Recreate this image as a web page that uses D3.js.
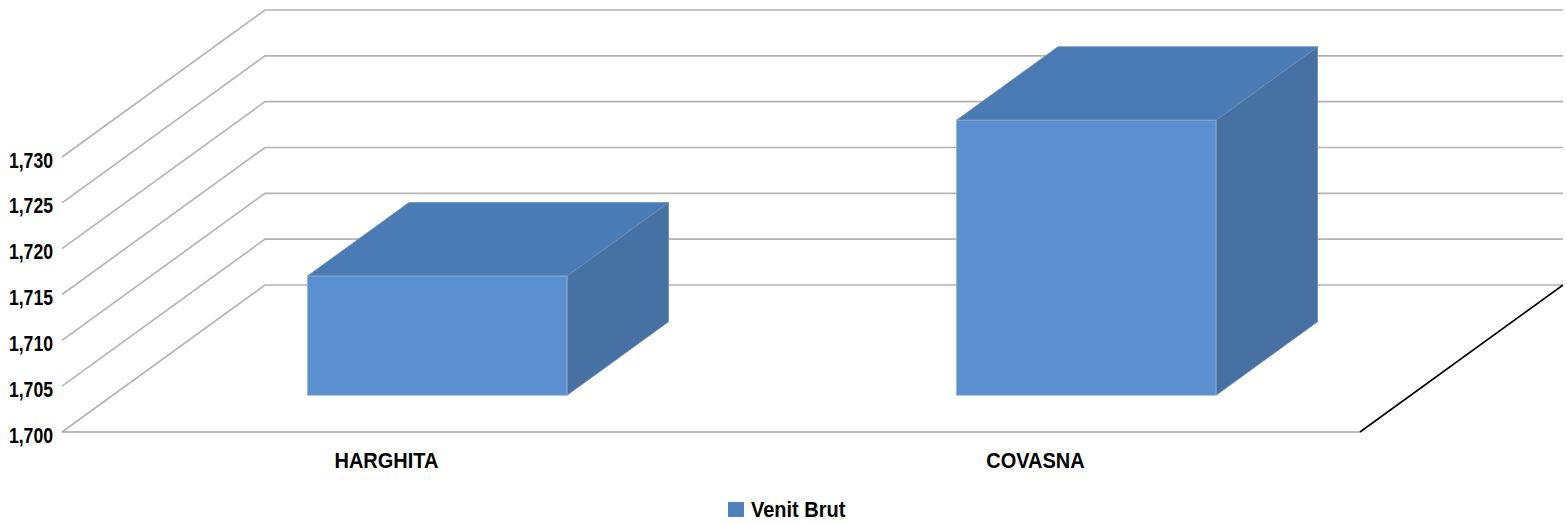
<!DOCTYPE html>
<html>
<head>
<meta charset="utf-8">
<script src="https://cdn.jsdelivr.net/npm/d3@7"></script>
<style>
  body { margin: 0; background: #fff; }
  svg { display: block; }
  text { font-family: "Liberation Sans", Arial, sans-serif; font-weight: bold; fill: #000; }
</style>
</head>
<body>
<svg id="chart" width="1567" height="525"></svg>
<script>
// data
var categories = ["HARGHITA", "COVASNA"];
var values = [1713, 1730];
var yTicks = [1700, 1705, 1710, 1715, 1720, 1725, 1730];
var seriesName = "Venit Brut";

var depthX = 203, depthY = -147;   // full depth of the 3d box
var barDepth0 = 0.25, barDepth1 = 0.75;
var narrowNum = 0.82;               // arial narrow look for numbers
var narrowTxt = 0.93;               // words look a bit wider

var svg = d3.select("#chart");

var x = d3.scaleBand().domain(categories).range([62, 1360]).padding(0);
var y = d3.scaleLinear().domain([1700, 1730]).range([432, 157]);
var fmt = d3.format(",");

function pt(px, py, d) {
    return [px + d * depthX, py + d * depthY];
}

// gridlines: left wall diagonal + back wall horizontal
var grid = svg.append("g").attr("class", "grid");
yTicks.forEach(function (t) {
    var p0 = [x.range()[0], y(t)];
    var p1 = pt(p0[0], p0[1], 1);
    var p2 = [x.range()[1] + depthX, p1[1]];
    grid.append("path")
        .attr("d", d3.line()([p0, p1, p2]))
        .attr("fill", "none")
        .attr("stroke", "#b3b3b3")
        .attr("stroke-width", 1.6);
});

// floor
svg.append("line")
    .attr("x1", x.range()[0]).attr("y1", y(1700))
    .attr("x2", x.range()[1]).attr("y2", y(1700))
    .attr("stroke", "#a6a6a6").attr("stroke-width", 1.6);
var fr = pt(x.range()[1], y(1700), 1);
svg.append("line")
    .attr("x1", x.range()[1]).attr("y1", y(1700))
    .attr("x2", fr[0]).attr("y2", fr[1])
    .attr("stroke", "#000").attr("stroke-width", 1.6);

// y tick labels
svg.append("g").selectAll("text")
    .data(yTicks)
    .enter().append("text")
    .attr("transform", function (d) { return "translate(53," + (y(d) + 10.5) + ") scale(" + narrowNum + ",1)"; })
    .attr("text-anchor", "end")
    .attr("font-size", 21.5)
    .text(function (d) { return fmt(d); });

// bars
var bw = x.bandwidth() / 2.5;
var bars = svg.append("g").selectAll("g")
    .data(categories.map(function (c, i) { return { cat: c, val: values[i] }; }))
    .enter().append("g");

bars.each(function (d) {
    var g = d3.select(this);
    var cx = x(d.cat) + x.bandwidth() / 2;
    var l = cx - bw / 2, r = cx + bw / 2;
    var fbl = pt(l, y(1700), barDepth0), fbr = pt(r, y(1700), barDepth0);
    var ftl = pt(l, y(d.val), barDepth0), ftr = pt(r, y(d.val), barDepth0);
    var bbr = pt(r, y(1700), barDepth1);
    var btl = pt(l, y(d.val), barDepth1), btr = pt(r, y(d.val), barDepth1);
    var line = d3.line();

    g.append("path").attr("d", line([fbr, ftr, btr, bbr]) + "Z")
        .attr("fill", "#4771a3").attr("stroke", "#6a8bb3").attr("stroke-width", 0.8);
    g.append("path").attr("d", line([ftl, btl, btr, ftr]) + "Z")
        .attr("fill", "#4a7bb4").attr("stroke", "#6a8bb3").attr("stroke-width", 0.8);
    g.append("path").attr("d", line([fbl, ftl, ftr, fbr]) + "Z")
        .attr("fill", "#5a8fd0").attr("stroke", "#9db0c8").attr("stroke-width", 0.8);
});

// category labels
svg.append("g").selectAll("text")
    .data(categories)
    .enter().append("text")
    .attr("transform", function (d) { return "translate(" + (x(d) + x.bandwidth() / 2) + ",467.5) scale(" + narrowTxt + ",1)"; })
    .attr("text-anchor", "middle")
    .attr("font-size", 21.5)
    .text(function (d) { return d; });

// legend
var lg = svg.append("g").attr("transform", "translate(728,502)");
lg.append("rect").attr("width", 16).attr("height", 15).attr("fill", "#4f81bd");
lg.append("text")
    .attr("transform", "translate(23,15.3) scale(" + narrowTxt + ",1)")
    .attr("font-size", 21.5)
    .text(seriesName);
</script>
</body>
</html>
